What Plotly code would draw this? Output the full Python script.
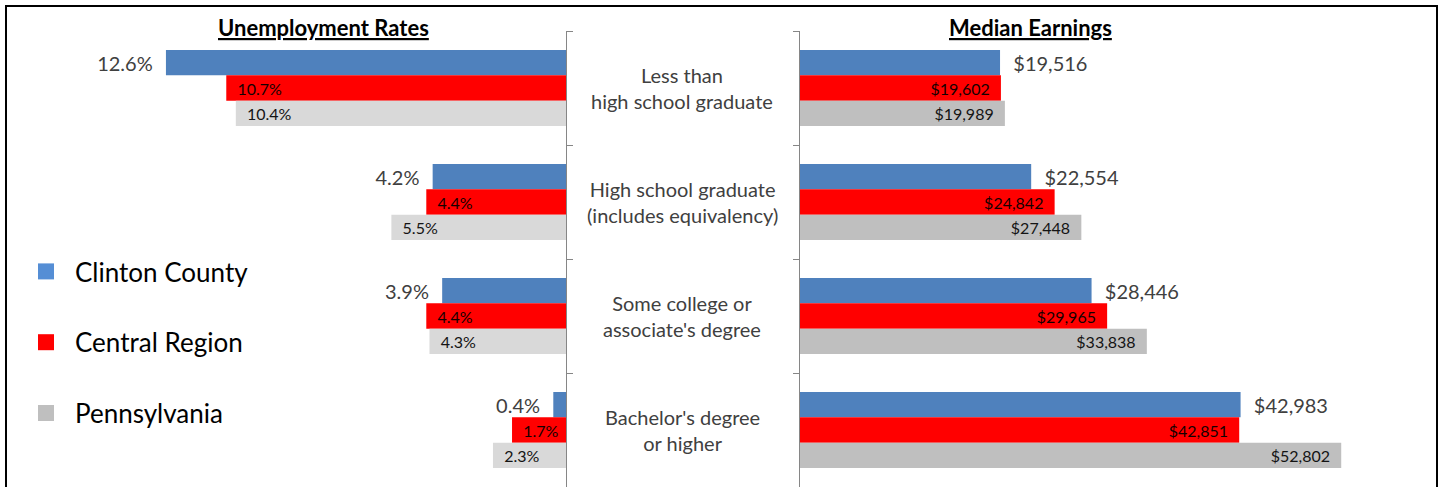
import plotly.graph_objects as go

W, H = 1442, 487


def px(x):
    return x / W


def py(y):
    return 1 - y / H


categories = [
    "Less than<br>high school graduate",
    "High school graduate<br>(includes equivalency)",
    "Some college or<br>associate's degree",
    "Bachelor's degree<br>or higher",
]
series_names = ["Clinton County", "Central Region", "Pennsylvania"]

unemployment_clinton = [12.6, 4.2, 3.9, 0.4]
unemployment_central = [10.7, 4.4, 4.4, 1.7]
unemployment_pa = [10.4, 5.5, 4.3, 2.3]

earnings_clinton = [19516, 22554, 28446, 42983]
earnings_central = [19602, 24842, 29965, 42851]
earnings_pa = [19989, 27448, 33838, 52802]

BLUE = "#4F81BD"
RED = "#FF0000"
GRAY_L = "#D9D9D9"
GRAY_R = "#BFBFBF"
LEGEND_COLORS = ["#558ED5", "#FF0000", "#BFBFBF"]
FONT = "Lato"
NB = "\u00a0"

fig = go.Figure()

left_sets = [
    (series_names[0], unemployment_clinton, BLUE),
    (series_names[1], unemployment_central, RED),
    (series_names[2], unemployment_pa, GRAY_L),
]
right_sets = [
    (series_names[0], earnings_clinton, BLUE),
    (series_names[1], earnings_central, RED),
    (series_names[2], earnings_pa, GRAY_R),
]

label_colors = ["#404040", "#140000", "#141414"]

for i, (name, vals, col) in enumerate(left_sets):
    outside = i == 0
    if outside:
        txt = [f"{v:.1f}%" + NB * 2 for v in vals]
    else:
        txt = [NB * 2 + f"{v:.1f}%" for v in vals]
    fig.add_trace(go.Bar(
        name=name, y=categories, x=vals, orientation="h",
        marker=dict(color=col, line=dict(width=0)),
        text=txt,
        textposition="outside" if outside else "inside",
        insidetextanchor="end",
        constraintext="none",
        cliponaxis=False,
        textfont=dict(family=FONT, size=20 if outside else 16, color=label_colors[i]),
        xaxis="x", yaxis="y", showlegend=False, hoverinfo="skip",
    ))

for i, (name, vals, col) in enumerate(right_sets):
    outside = i == 0
    if outside:
        txt = [NB * 2 + f"${v:,}" for v in vals]
    else:
        txt = [f"${v:,}" + NB * 2 for v in vals]
    fig.add_trace(go.Bar(
        name=name, y=categories, x=vals, orientation="h",
        marker=dict(color=col, line=dict(width=0)),
        text=txt,
        textposition="outside" if outside else "inside",
        insidetextanchor="end",
        constraintext="none",
        cliponaxis=False,
        textfont=dict(family=FONT, size=20 if outside else 16, color=label_colors[i]),
        xaxis="x2", yaxis="y2", showlegend=False, hoverinfo="skip",
    ))

# legend entries (square swatches)
for name, col in zip(series_names, LEGEND_COLORS):
    fig.add_trace(go.Scatter(
        name=name, x=[None], y=[None], mode="markers",
        marker=dict(symbol="square", size=16, color=col, line=dict(width=0)),
        xaxis="x2", yaxis="y2", showlegend=True, legendgroup=name, hoverinfo="skip",
    ))

yaxis_common = dict(
    domain=[0, py(31)], range=[3.5, -0.5], type="category",
    categoryorder="array", categoryarray=categories,
    showline=True, linecolor="#868686", linewidth=1,
    ticks="outside", tickson="boundaries", ticklen=6, tickcolor="#868686",
    showticklabels=False, showgrid=False, zeroline=False, fixedrange=True,
)

annotations = []
for c in categories:
    annotations.append(dict(
        x=px(682), xref="paper", y=c, yref="y", text=c, showarrow=False,
        font=dict(family=FONT, size=20, color="#404040"), align="center",
        xanchor="center", yanchor="middle",
    ))
annotations.append(dict(
    x=px(323), y=py(28), xref="paper", yref="paper",
    text="<b><u>Unemployment Rates</u></b>", showarrow=False,
    font=dict(family=FONT, size=22, color="#000000"), xanchor="center", yanchor="middle",
))
annotations.append(dict(
    x=px(1030), y=py(28), xref="paper", yref="paper",
    text="<b><u>Median Earnings</u></b>", showarrow=False,
    font=dict(family=FONT, size=22, color="#000000"), xanchor="center", yanchor="middle",
))

fig.update_layout(
    width=W, height=H, margin=dict(l=0, r=0, t=0, b=0),
    paper_bgcolor="white", plot_bgcolor="white",
    barmode="group", bargap=0.333, bargroupgap=0,
    xaxis=dict(domain=[px(566 - 31.75 * 17.5), px(566)], range=[17.5, 0],
               visible=False, fixedrange=True),
    xaxis2=dict(domain=[px(800), px(1415)], range=[0, 60000], visible=False,
                anchor="y2", fixedrange=True),
    yaxis=dict(anchor="x", side="right", **yaxis_common),
    yaxis2=dict(anchor="x2", side="left", **yaxis_common),
    legend=dict(
        x=px(17), y=py(248), xanchor="left", yanchor="top",
        font=dict(family=FONT, size=26, color="#000000"),
        tracegroupgap=34, itemwidth=48, bgcolor="rgba(0,0,0,0)",
    ),
    annotations=annotations,
    shapes=[dict(type="rect", xref="paper", yref="paper",
                 x0=px(6), x1=px(1437), y0=-0.2, y1=py(6),
                 line=dict(color="black", width=2), fillcolor="rgba(0,0,0,0)",
                 layer="above")],
    font=dict(family=FONT),
)

fig.write_html(
    "out.html",
    config={"displayModeBar": False},
    post_script="document.body.style.margin='0px';",
)
